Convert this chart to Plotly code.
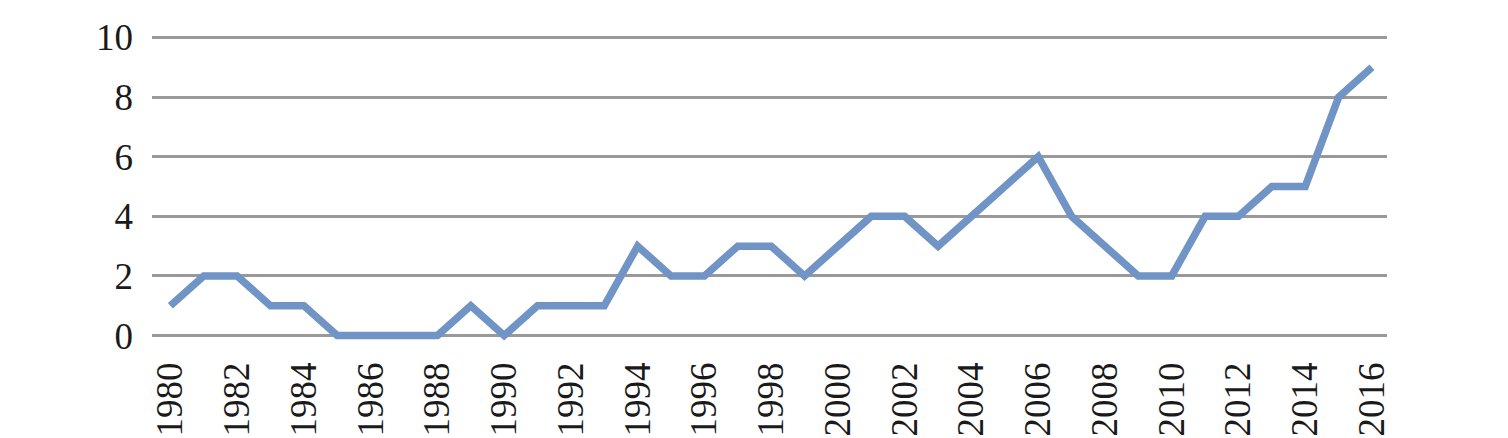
import plotly.graph_objects as go

years = list(range(1980, 2017))
counts = [1, 2, 2, 1, 1, 0, 0, 0, 0, 1, 0, 1, 1, 1, 3, 2, 2, 3, 3, 2, 3,
          4, 4, 3, 4, 5, 6, 4, 3, 2, 2, 4, 4, 5, 5, 8, 9]
x_ticks = list(range(1980, 2017, 2))
y_ticks = [0, 2, 4, 6, 8, 10]

fig = go.Figure()
fig.add_trace(go.Scatter(
    x=years, y=counts, mode="lines",
    line=dict(color="#7094c5", width=7.5),
    hoverinfo="x+y", showlegend=False,
))

font_family = "Liberation Serif, DejaVu Serif, serif"
tick_font = dict(family=font_family, size=37, color="#1a1a1a")
fig.update_layout(
    width=1500, height=430,
    margin=dict(l=144, r=121, t=25, b=92, autoexpand=False),
    paper_bgcolor="white", plot_bgcolor="white",
    font=dict(family=font_family, size=37, color="#1a1a1a"),
    xaxis=dict(
        range=[1979.45, 2016.45], automargin=False,
        tickvals=x_ticks, ticktext=[str(v) for v in x_ticks],
        tickangle=-90, showgrid=False, zeroline=False, showline=False,
        ticks="", ticklabelstandoff=8, tickfont=tick_font,
    ),
    yaxis=dict(
        range=[-0.35, 10.15], automargin=False,
        tickvals=y_ticks, ticktext=[str(v) for v in y_ticks],
        showgrid=True, gridcolor="#999999", gridwidth=3,
        zeroline=False, showline=False, ticks="", ticklabelstandoff=18,
        tickfont=tick_font,
    ),
)

fig.write_html("out.html")
